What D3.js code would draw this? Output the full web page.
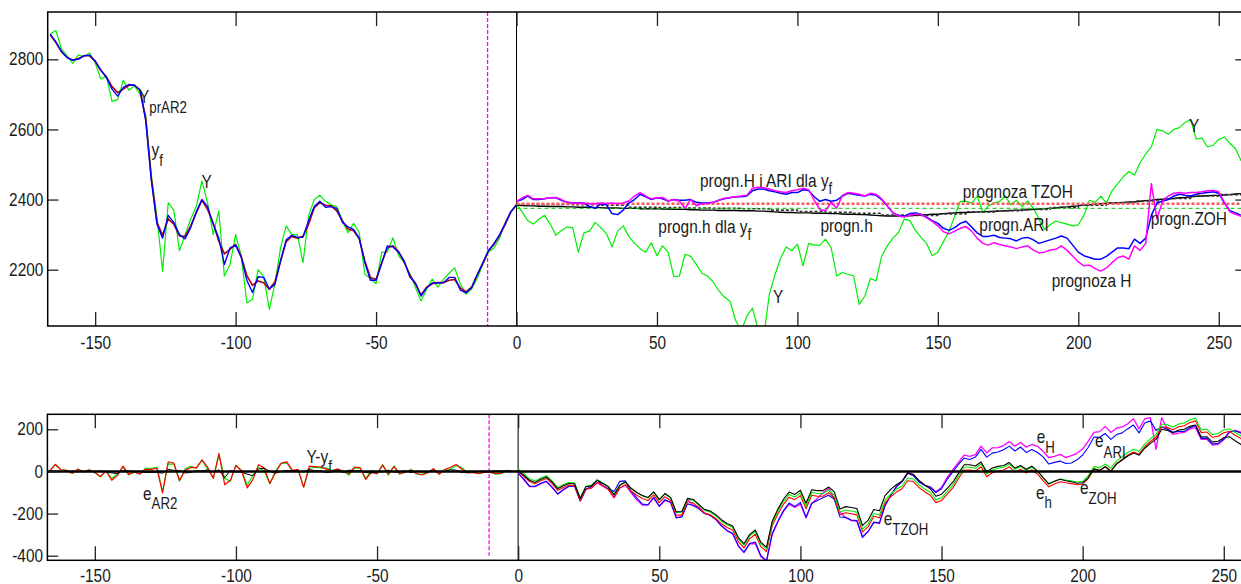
<!DOCTYPE html>
<meta charset="utf-8">
<head>
  <title>Prognozy</title>
  <script src="https://d3js.org/d3.v7.min.js"></script>
  <style>
    body { margin: 0; background: #fff; }
    text { font-family: "Liberation Sans", Arial, sans-serif; fill: #1a1a1a; }
  </style>
</head>
<body>
<div id="chart"></div>
<script>
const xStart = -166, xStep = 2;

// observed Y, from -166 to 258
const yObs = [
  2872, 2882, 2830, 2810, 2788, 2812, 2808, 2818, 2790, 2744, 2752, 2680, 2685, 2740, 2712, 2724,
  2700, 2640, 2470, 2350, 2196, 2391, 2370, 2254, 2300, 2344, 2380, 2453, 2391, 2300, 2368, 2182,
  2215, 2300, 2240, 2105, 2116, 2200, 2180, 2087, 2160, 2263, 2325, 2300, 2300, 2220, 2355, 2400,
  2412, 2395, 2385, 2380, 2340, 2305, 2332, 2306, 2187, 2175, 2160, 2250, 2250, 2291, 2240, 2220,
  2190, 2150, 2111, 2144, 2173, 2150, 2172, 2190, 2205, 2160, 2130, 2145, 2175, 2215, 2250, 2262,
  2290, 2335, 2365, 2387,
  2365, 2340, 2330, 2344, 2355, 2330, 2298, 2312, 2322, 2320, 2250, 2305, 2310, 2335, 2320, 2303,
  2265, 2310, 2325, 2295, 2275, 2260, 2250, 2277, 2240, 2268, 2250, 2180, 2182, 2244, 2238, 2215,
  2190, 2182, 2165, 2140, 2122, 2110, 2055, 2025, 2068, 2090, 2030, 2008, 2130, 2185, 2232, 2265,
  2254, 2273, 2211, 2275, 2270, 2270, 2287, 2263, 2182, 2192, 2187, 2182, 2101, 2125, 2175, 2168,
  2239, 2268, 2290, 2306, 2344, 2340, 2312, 2292, 2275, 2240, 2250, 2280, 2310, 2353, 2395, 2395,
  2390, 2410, 2363, 2382, 2390, 2395, 2410, 2385, 2398, 2380, 2396, 2375, 2344, 2315, 2328, 2339,
  2334, 2330, 2325, 2328, 2355, 2398, 2392, 2410, 2390, 2425, 2445, 2465, 2480, 2470, 2505, 2530,
  2550, 2600, 2596, 2586, 2600, 2605, 2620, 2628, 2572, 2575, 2550, 2555, 2572, 2578, 2560, 2545,
  2510
];

// AR2 one-step prediction and filtered y_f, from -166 to 0
const yPrAR2 = [
  2870, 2848, 2822, 2805, 2797, 2802, 2810, 2810, 2795, 2768, 2750, 2722, 2705, 2715, 2726, 2726,
  2712, 2630, 2460, 2335, 2298, 2345, 2330, 2296, 2295, 2325, 2362, 2398, 2372, 2333, 2282, 2245,
  2258, 2272, 2238, 2183, 2155, 2168, 2163, 2144, 2166, 2225, 2280, 2295, 2290, 2295, 2330, 2377,
  2391, 2384, 2382, 2368, 2340, 2316, 2311, 2288, 2225, 2178, 2172, 2220, 2262, 2268, 2252, 2222,
  2185, 2160, 2128, 2150, 2160, 2163, 2163, 2170, 2172, 2148, 2137, 2150, 2185, 2218, 2254, 2272,
  2298, 2330, 2365, 2385
];
const yF = [
  2872, 2850, 2822, 2805, 2798, 2800, 2810, 2812, 2795, 2770, 2748, 2715, 2695, 2720, 2728, 2726,
  2712, 2625, 2455, 2330, 2290, 2355, 2335, 2300, 2288, 2320, 2365, 2400, 2380, 2330, 2290, 2215,
  2262, 2270, 2235, 2170, 2135, 2180, 2178, 2145, 2158, 2225, 2285, 2298, 2292, 2293, 2340, 2380,
  2395, 2378, 2380, 2375, 2335, 2322, 2315, 2290, 2220, 2170, 2170, 2218, 2268, 2265, 2250, 2225,
  2180, 2162, 2125, 2148, 2162, 2162, 2163, 2178, 2178, 2142, 2134, 2148, 2185, 2220, 2254, 2275,
  2300, 2332, 2365, 2385
];

// forecasts, from 0 to 258
const progH = [
  2395, 2405, 2412, 2402, 2402, 2403, 2405, 2406, 2400, 2392, 2390, 2389, 2390, 2388, 2388, 2390,
  2389, 2390, 2388, 2390, 2396, 2410, 2420, 2410, 2402, 2405, 2406, 2396, 2400, 2395, 2375, 2400,
  2382, 2388, 2389, 2392, 2398, 2404, 2406, 2408, 2410, 2412, 2432, 2435, 2434, 2430, 2425, 2422,
  2420, 2425, 2428, 2432, 2428, 2398, 2371, 2368, 2392, 2375, 2412, 2420, 2418, 2415, 2410, 2418,
  2415, 2402, 2382, 2363, 2353, 2350, 2355, 2358, 2358, 2348, 2338, 2325, 2308, 2302, 2310, 2318,
  2323, 2310, 2290, 2275, 2270, 2277, 2272, 2268, 2265, 2260, 2265, 2268, 2256, 2248, 2250, 2256,
  2258, 2268, 2255, 2239, 2222, 2211, 2213, 2203, 2196, 2205, 2220, 2234, 2239, 2230, 2268, 2255,
  2275, 2445, 2345, 2395, 2410, 2418, 2420, 2418, 2420, 2420, 2422, 2425, 2426, 2422, 2392, 2365,
  2358, 2352
];
const progARI = [
  2395, 2400, 2410, 2400, 2400, 2402, 2405, 2405, 2398, 2392, 2390, 2390, 2390, 2380, 2375, 2388,
  2385, 2360, 2357, 2370, 2390, 2400, 2415, 2408, 2400, 2405, 2402, 2396, 2400, 2398, 2398, 2400,
  2392, 2390, 2390, 2392, 2398, 2402, 2405, 2408, 2408, 2410, 2425, 2430, 2430, 2425, 2422, 2418,
  2415, 2420, 2420, 2428, 2426, 2408, 2395, 2400, 2395, 2398, 2410, 2418, 2415, 2412, 2410, 2415,
  2412, 2400, 2382, 2362, 2355, 2352, 2360, 2362, 2358, 2350, 2340, 2332, 2318, 2312, 2320, 2332,
  2338, 2322, 2305, 2295, 2295, 2298, 2292, 2290, 2288, 2282, 2290, 2292, 2285, 2275, 2280, 2285,
  2290, 2296, 2290, 2270, 2250, 2240, 2235, 2230, 2230, 2238, 2250, 2262, 2262, 2260, 2287, 2275,
  2290, 2355, 2390, 2395, 2400, 2410, 2415, 2412, 2410, 2415, 2418, 2420, 2422, 2418, 2390, 2368,
  2362, 2355
];
const progh = [
  2384, 2383, 2382, 2382, 2381, 2381, 2380, 2380, 2380, 2379, 2379, 2378, 2378, 2378, 2377, 2377,
  2376, 2376, 2376, 2375, 2375, 2375, 2374, 2374, 2374, 2374, 2373, 2373, 2372, 2372, 2372, 2371,
  2371, 2370, 2370, 2370, 2369, 2369, 2369, 2369, 2368, 2368, 2368, 2367, 2367, 2366, 2365, 2364,
  2363, 2363, 2362, 2362, 2362, 2361, 2361, 2361, 2360, 2360, 2359, 2358, 2358, 2357, 2357, 2356,
  2355, 2354, 2353, 2353, 2353, 2353, 2354, 2355, 2356, 2357, 2358, 2358, 2360, 2361, 2362, 2363,
  2363, 2364, 2365, 2365, 2366, 2366, 2367, 2368, 2369, 2370, 2370, 2371, 2372, 2373, 2374, 2375,
  2376, 2378, 2379, 2381, 2382, 2384, 2385, 2387, 2388, 2389, 2390, 2391, 2392, 2393, 2393, 2395,
  2397, 2398, 2400, 2401, 2402, 2403, 2405, 2406, 2408, 2409, 2410, 2411, 2412, 2412, 2413, 2414,
  2416, 2417
];
// stepped trend hold (dark dashed line over progn.h)
const holdX = [0, 10, 20, 30, 40, 50, 60, 70, 80, 90, 100, 110, 120, 130, 140, 150, 160, 170, 180, 190, 200, 210, 220, 230, 240, 250, 258];
const holdV = [2386, 2386, 2385, 2384, 2378, 2377, 2376, 2375, 2374, 2370, 2366, 2364, 2361, 2356, 2355, 2359, 2365, 2368, 2372, 2377, 2384, 2391, 2396, 2403, 2410, 2414, 2419];

const zohLevel = 2388;   // red dotted
const tzohLevel = 2375;  // green dashed
const splitX = -10.3;

const xTicks = [-150, -100, -50, 0, 50, 100, 150, 200, 250];
const topYTicks = [2200, 2400, 2600, 2800];
const botYTicks = [-400, -200, 0, 200];

// ---- layout ----
const W = 1241, H = 584;
const boxT = {l: 47.7, r: 1246, t: 12, b: 326};
const boxB = {l: 47.4, r: 1252, t: 414.3, b: 560.3};

const svg = d3.select("#chart").append("svg")
  .attr("width", W).attr("height", H)
  .style("background", "#fff");

const x1 = d3.scaleLinear().domain([-166.9, 259.7]).range([boxT.l, boxT.r]);
const y1 = d3.scaleLinear().domain([2039.4, 2934.9]).range([boxT.b, boxT.t]);
const x2 = d3.scaleLinear().domain([-166.8, 260]).range([boxB.l, boxB.r]);
const y2 = d3.scaleLinear().domain([-421.8, 271.2]).range([boxB.b, boxB.t]);

const defs = svg.append("defs");
defs.append("clipPath").attr("id", "clipTop").append("rect")
  .attr("x", boxT.l).attr("y", boxT.t).attr("width", boxT.r - boxT.l).attr("height", boxT.b - boxT.t);
defs.append("clipPath").attr("id", "clipBot").append("rect")
  .attr("x", boxB.l).attr("y", boxB.t).attr("width", boxB.r - boxB.l).attr("height", boxB.b - boxB.t);

// pair arrays with their x
const withX = (arr, x0, step) => arr.map((v, i) => [x0 + i * step, v]);
const obs = withX(yObs, xStart, xStep);
const ar2 = withX(yPrAR2, xStart, xStep);
const yf = withX(yF, xStart, xStep);
const fH = withX(progH, 0, xStep);
const fARI = withX(progARI, 0, xStep);
const fh = withX(progh, 0, xStep);
const hold = holdX.map((x, i) => [x, holdV[i]]);
const obsAt = x => yObs[(x - xStart) / xStep];

// errors for the lower panel
const eAR2 = ar2.map(([x, v]) => [x, obsAt(x) - v]);
const eYf = yf.map(([x, v]) => [x, obsAt(x) - v]);
const eFilt = yf.map(([x, v], i) => [x, v - yPrAR2[i]]);
const eH = fH.map(([x, v]) => [x, obsAt(x) - v]);
const eARI = fARI.map(([x, v]) => [x, obsAt(x) - v]);
const eh = fh.map(([x, v]) => [x, obsAt(x) - v]);
const eZOH = fh.map(([x]) => [x, obsAt(x) - zohLevel]);
const eTZOH = fh.map(([x]) => [x, obsAt(x) - tzohLevel]);

function drawLine(g, line, data, color, w, dash) {
  g.append("path").datum(data)
    .attr("fill", "none").attr("stroke", color).attr("stroke-width", w)
    .attr("stroke-linejoin", "round")
    .attr("stroke-dasharray", dash || null)
    .attr("d", line);
}

// ---- top panel ----
const pT = svg.append("g").attr("clip-path", "url(#clipTop)");
const lineT = d3.line().x(d => x1(d[0])).y(d => y1(d[1]));
const stepT = d3.line().x(d => x1(d[0])).y(d => y1(d[1])).curve(d3.curveStepAfter);

pT.append("line").attr("x1", x1(splitX)).attr("x2", x1(splitX)).attr("y1", boxT.t).attr("y2", boxT.b)
  .attr("stroke", "#ff00ff").attr("stroke-width", 1.3).attr("stroke-dasharray", "4,2");
pT.append("line").attr("x1", x1(0)).attr("x2", x1(0)).attr("y1", boxT.t).attr("y2", boxT.b)
  .attr("stroke", "#000").attr("stroke-width", 1);

drawLine(pT, lineT, obs, "#00ee00", 1.2);
drawLine(pT, lineT, ar2, "#b00010", 1.6);
drawLine(pT, lineT, yf, "#0000ff", 1.4);
drawLine(pT, lineT, fh, "#000", 1.4);
drawLine(pT, stepT, hold, "#333", 1.6, "3,2");
drawLine(pT, lineT, [[0, tzohLevel], [259.7, tzohLevel]], "#00cc00", 1, "4,3");
drawLine(pT, lineT, [[0, zohLevel], [259.7, zohLevel]], "#ff5a5a", 2.4, "3,2");
drawLine(pT, lineT, fARI, "#0000ff", 1.5);
drawLine(pT, lineT, fH, "#ff00ff", 1.5);

// ---- bottom panel ----
const pB = svg.append("g").attr("clip-path", "url(#clipBot)");
const lineB = d3.line().x(d => x2(d[0])).y(d => y2(d[1]));

pB.append("line").attr("x1", x2(splitX)).attr("x2", x2(splitX)).attr("y1", boxB.t).attr("y2", y2(-400))
  .attr("stroke", "#ff00ff").attr("stroke-width", 1.3).attr("stroke-dasharray", "4,2");
pB.append("line").attr("x1", x2(0)).attr("x2", x2(0)).attr("y1", boxB.t).attr("y2", boxB.b)
  .attr("stroke", "#444").attr("stroke-width", 1.4);

drawLine(pB, lineB, eYf, "#00ee00", 1.2);
drawLine(pB, lineB, eAR2, "#ff0000", 1.2);
drawLine(pB, lineB, eFilt, "#000", 1);
drawLine(pB, lineB, eH, "#ff00ff", 1.3);
drawLine(pB, lineB, eARI, "#0000ff", 1.1);
drawLine(pB, lineB, eZOH, "#ff0000", 1.1);
drawLine(pB, lineB, eTZOH, "#00ee00", 1.1);
drawLine(pB, lineB, eh, "#000", 1.1);

pB.append("line").attr("x1", boxB.l).attr("x2", boxB.r).attr("y1", y2(0)).attr("y2", y2(0))
  .attr("stroke", "#000").attr("stroke-width", 2.4);

// ---- axes (ticks pointing inward, box) ----
const fmt = d => String(d);
function styleAxis(g, fs) {
  g.select(".domain").remove();
  g.selectAll(".tick line").attr("stroke", "#222").attr("stroke-width", 1.3);
  g.selectAll(".tick text").attr("fill", "#1a1a1a").style("font-size", fs + "px")
    .attr("transform", "scale(0.88,1)");
}

function axes(xs, ys, box, yTicks, xPad) {
  svg.append("g").attr("transform", `translate(0,${box.b})`)
    .call(d3.axisBottom(xs).tickValues(xTicks).tickSize(-14).tickPadding(xPad).tickFormat(fmt))
    .call(g => styleAxis(g, 17.5));
  svg.append("g").attr("transform", `translate(0,${box.t})`)
    .call(d3.axisTop(xs).tickValues(xTicks).tickSize(-14).tickFormat(""))
    .call(g => styleAxis(g, 17.5));
  svg.append("g").attr("transform", `translate(${box.l},0)`)
    .call(d3.axisLeft(ys).tickValues(yTicks).tickSize(-10.7).tickPadding(5).tickFormat(fmt))
    .call(g => styleAxis(g, 17.5));
  svg.append("g").attr("transform", `translate(${box.r},0)`)
    .call(d3.axisRight(ys).tickValues(yTicks).tickSize(-10.7).tickFormat(""))
    .call(g => styleAxis(g, 17.5));
  svg.append("rect").attr("x", box.l).attr("y", box.t)
    .attr("width", box.r - box.l).attr("height", box.b - box.t)
    .attr("fill", "none").attr("stroke", "#000").attr("stroke-width", 1.5);
}
axes(x1, y1, boxT, topYTicks, 10.7);
axes(x2, y2, boxB, botYTicks, 9.3);

// ---- annotations ----
const labels = [
  {x: 139, y: 103, t: "Y", s: "prAR2", dy: 10},
  {x: 151.5, y: 156, t: "y", s: "f", dy: 10},
  {x: 201.5, y: 188, t: "Y"},
  {x: 700, y: 186.5, t: "progn.H i ARI dla y", s: "f", dy: 7},
  {x: 658.3, y: 233.3, t: "progn.h dla y", s: "f", dy: 7},
  {x: 820.4, y: 231.7, t: "progn.h"},
  {x: 962.7, y: 198.3, t: "prognoza TZOH"},
  {x: 979.3, y: 230.7, t: "progn.ARI"},
  {x: 1150.7, y: 225, t: "progn.ZOH"},
  {x: 1051.7, y: 286.7, t: "prognoza H"},
  {x: 1189, y: 131.7, t: "Y"},
  {x: 773, y: 302.7, t: "Y"},
  {x: 143, y: 500, t: "e", s: "AR2", dy: 8.5},
  {x: 306.5, y: 463.3, t: "Y-y", s: "f", dy: 8.4},
  {x: 883.7, y: 525, t: "e", s: "TZOH", dy: 10},
  {x: 1036.7, y: 443.3, t: "e", s: "H", dy: 10},
  {x: 1095, y: 447.3, t: "e", s: "ARI", dy: 11},
  {x: 1036, y: 499, t: "e", s: "h", dy: 9},
  {x: 1080, y: 494, t: "e", s: "ZOH", dy: 10}
];
labels.forEach(d => {
  const t = svg.append("text")
    .attr("transform", `translate(${d.x},${d.y}) scale(0.83,1)`)
    .style("font-size", "18.6px");
  t.append("tspan").text(d.t);
  if (d.s) t.append("tspan").attr("dy", d.dy).style("font-size", "16px").text(d.s);
});
</script>
</body>
